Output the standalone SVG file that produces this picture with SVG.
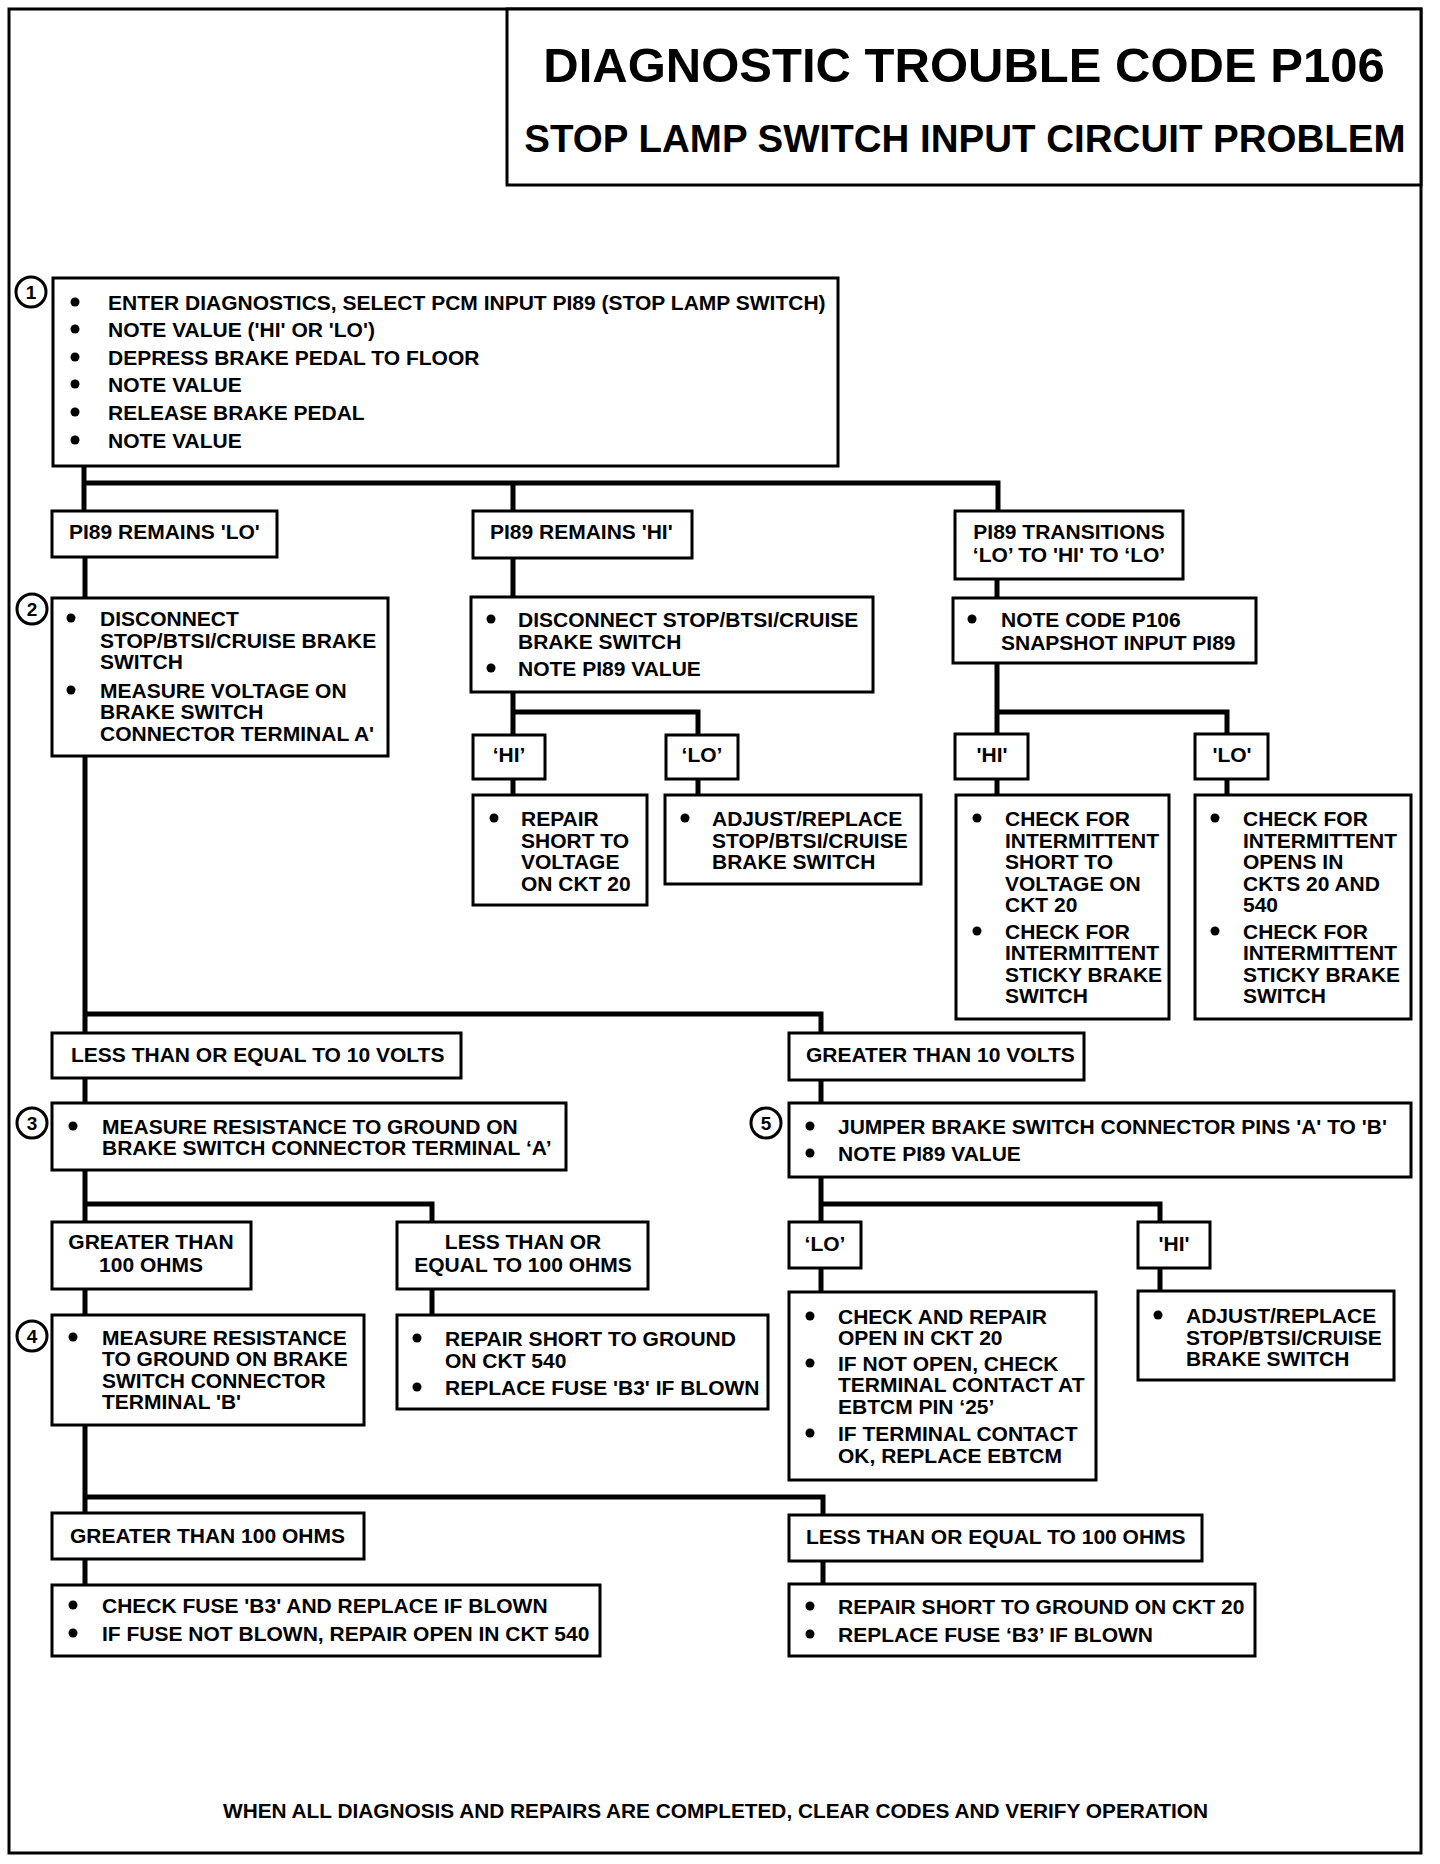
<svg xmlns="http://www.w3.org/2000/svg" width="1440" height="1864" viewBox="0 0 1440 1864">
<style>
.bx{fill:#fff;stroke:#000;stroke-width:3}
.t{font-family:"Liberation Sans",Arial,Helvetica,sans-serif;font-weight:bold;font-size:21px;fill:#000}
.m{text-anchor:middle}
.cn{fill:none;stroke:#000;stroke-width:5}
.num{fill:#fff;stroke:#000;stroke-width:3}
.nt{font-family:"Liberation Sans",Arial,Helvetica,sans-serif;font-weight:bold;font-size:19px;text-anchor:middle}
</style>
<defs>
<circle id="b" r="4.5" fill="#000"/>
</defs>
<rect width="1440" height="1864" fill="#fff"/>
<rect x="9" y="9" width="1412" height="1844" fill="none" stroke="#000" stroke-width="3"/>

<g id="connectors">
<path class="cn" d="M84 465V511M84 483H998V511M513 483V511"/>
<path class="cn" d="M85 557V598"/>
<path class="cn" d="M85 756V1033M85 1014H821V1033"/>
<path class="cn" d="M513 558V598M513 692V735M513 712H698V735M513 779V795M698 779V795"/>
<path class="cn" d="M997 579V598M997 663V734M997 712H1227V734M997 779V795M1227 779V795"/>
<path class="cn" d="M85 1078V1103M85 1170V1222M85 1204H432V1222M85 1289V1315M432 1289V1315"/>
<path class="cn" d="M85 1425V1513M85 1497H823V1515M85 1559V1585M823 1561V1584"/>
<path class="cn" d="M821 1080V1103M821 1177V1222M821 1204H1160V1222M821 1268V1292M1160 1268V1291"/>
</g>

<g id="title">
<rect class="bx" x="507" y="9" width="914" height="176"/>
<text class="t" x="964" y="82" text-anchor="middle" style="font-size:49px">DIAGNOSTIC TROUBLE CODE P106</text>
<text class="t" x="965" y="152" text-anchor="middle" style="font-size:38.5px">STOP LAMP SWITCH INPUT CIRCUIT PROBLEM</text>
</g>

<g id="step1">
<rect class="bx" x="53" y="278" width="785" height="188"/>
<circle class="num" cx="31" cy="292" r="15"/><text class="nt" x="31" y="299">1</text>
<use href="#b" x="75" y="302"/><text class="t" x="108" y="310">ENTER DIAGNOSTICS, SELECT PCM INPUT PI89 (STOP LAMP SWITCH)</text>
<use href="#b" x="75" y="329"/><text class="t" x="108" y="337">NOTE VALUE ('HI' OR 'LO')</text>
<use href="#b" x="75" y="357"/><text class="t" x="108" y="365">DEPRESS BRAKE PEDAL TO FLOOR</text>
<use href="#b" x="75" y="384"/><text class="t" x="108" y="392">NOTE VALUE</text>
<use href="#b" x="75" y="412"/><text class="t" x="108" y="420">RELEASE BRAKE PEDAL</text>
<use href="#b" x="75" y="440"/><text class="t" x="108" y="448">NOTE VALUE</text>
</g>

<g id="pi89-lo">
<rect class="bx" x="52" y="511" width="225" height="46"/>
<text class="t" x="69" y="539">PI89 REMAINS 'LO'</text>
</g>
<g id="pi89-hi">
<rect class="bx" x="473" y="511" width="219" height="47"/>
<text class="t" x="490" y="539">PI89 REMAINS 'HI'</text>
</g>
<g id="pi89-trans">
<rect class="bx" x="955" y="511" width="228" height="68"/>
<text class="t m" x="1069" y="539">PI89 TRANSITIONS</text>
<text class="t m" x="1069" y="562">‘LO’ TO 'HI' TO ‘LO’</text>
</g>

<g id="step2">
<rect class="bx" x="52" y="598" width="336" height="158"/>
<circle class="num" cx="32" cy="609" r="15"/><text class="nt" x="32" y="616">2</text>
<use href="#b" x="71" y="618"/>
<text class="t" x="100" y="626">DISCONNECT</text>
<text class="t" x="100" y="648">STOP/BTSI/CRUISE BRAKE</text>
<text class="t" x="100" y="669">SWITCH</text>
<use href="#b" x="71" y="690"/>
<text class="t" x="100" y="698">MEASURE VOLTAGE ON</text>
<text class="t" x="100" y="719">BRAKE SWITCH</text>
<text class="t" x="100" y="741">CONNECTOR TERMINAL A'</text>
</g>

<g id="disconnect-hi">
<rect class="bx" x="471" y="597" width="402" height="95"/>
<use href="#b" x="491" y="619"/>
<text class="t" x="518" y="627">DISCONNECT STOP/BTSI/CRUISE</text>
<text class="t" x="518" y="649">BRAKE SWITCH</text>
<use href="#b" x="491" y="668"/>
<text class="t" x="518" y="676">NOTE PI89 VALUE</text>
</g>

<g id="hi-a">
<rect class="bx" x="473" y="735" width="72" height="44"/>
<text class="t m" x="509" y="762">‘HI’</text>
</g>
<g id="lo-a">
<rect class="bx" x="666" y="735" width="72" height="44"/>
<text class="t m" x="702" y="762">‘LO’</text>
</g>
<g id="repair-short-voltage">
<rect class="bx" x="473" y="795" width="174" height="110"/>
<use href="#b" x="494" y="818"/>
<text class="t" x="521" y="826">REPAIR</text>
<text class="t" x="521" y="848">SHORT TO</text>
<text class="t" x="521" y="869">VOLTAGE</text>
<text class="t" x="521" y="891">ON CKT 20</text>
</g>
<g id="adjust-a">
<rect class="bx" x="665" y="795" width="256" height="89"/>
<use href="#b" x="685" y="818"/>
<text class="t" x="712" y="826">ADJUST/REPLACE</text>
<text class="t" x="712" y="848">STOP/BTSI/CRUISE</text>
<text class="t" x="712" y="869">BRAKE SWITCH</text>
</g>

<g id="note-code">
<rect class="bx" x="953" y="598" width="303" height="65"/>
<use href="#b" x="972" y="619"/>
<text class="t" x="1001" y="627">NOTE CODE P106</text>
<text class="t" x="1001" y="650">SNAPSHOT INPUT PI89</text>
</g>
<g id="hi-b">
<rect class="bx" x="955" y="734" width="73" height="45"/>
<text class="t m" x="992" y="762">'HI'</text>
</g>
<g id="lo-b">
<rect class="bx" x="1195" y="734" width="73" height="45"/>
<text class="t m" x="1232" y="762">'LO'</text>
</g>
<g id="check-short">
<rect class="bx" x="956" y="795" width="213" height="224"/>
<use href="#b" x="977" y="818"/>
<text class="t" x="1005" y="826">CHECK FOR</text>
<text class="t" x="1005" y="848">INTERMITTENT</text>
<text class="t" x="1005" y="869">SHORT TO</text>
<text class="t" x="1005" y="891">VOLTAGE ON</text>
<text class="t" x="1005" y="912">CKT 20</text>
<use href="#b" x="977" y="931"/>
<text class="t" x="1005" y="939">CHECK FOR</text>
<text class="t" x="1005" y="960">INTERMITTENT</text>
<text class="t" x="1005" y="982">STICKY BRAKE</text>
<text class="t" x="1005" y="1003">SWITCH</text>
</g>
<g id="check-opens">
<rect class="bx" x="1195" y="795" width="216" height="224"/>
<use href="#b" x="1215" y="818"/>
<text class="t" x="1243" y="826">CHECK FOR</text>
<text class="t" x="1243" y="848">INTERMITTENT</text>
<text class="t" x="1243" y="869">OPENS IN</text>
<text class="t" x="1243" y="891">CKTS 20 AND</text>
<text class="t" x="1243" y="912">540</text>
<use href="#b" x="1215" y="931"/>
<text class="t" x="1243" y="939">CHECK FOR</text>
<text class="t" x="1243" y="960">INTERMITTENT</text>
<text class="t" x="1243" y="982">STICKY BRAKE</text>
<text class="t" x="1243" y="1003">SWITCH</text>
</g>

<g id="le-10v">
<rect class="bx" x="52" y="1033" width="409" height="45"/>
<text class="t" x="71" y="1062">LESS THAN OR EQUAL TO 10 VOLTS</text>
</g>
<g id="gt-10v">
<rect class="bx" x="789" y="1033" width="295" height="47"/>
<text class="t" x="806" y="1062">GREATER THAN 10 VOLTS</text>
</g>

<g id="step3">
<rect class="bx" x="52" y="1103" width="514" height="67"/>
<circle class="num" cx="32" cy="1123" r="15"/><text class="nt" x="32" y="1130">3</text>
<use href="#b" x="73" y="1126"/>
<text class="t" x="102" y="1134">MEASURE RESISTANCE TO GROUND ON</text>
<text class="t" x="102" y="1155">BRAKE SWITCH CONNECTOR TERMINAL ‘A’</text>
</g>
<g id="step5">
<rect class="bx" x="789" y="1103" width="622" height="74"/>
<circle class="num" cx="766" cy="1123" r="15"/><text class="nt" x="766" y="1130">5</text>
<use href="#b" x="810" y="1126"/>
<text class="t" x="838" y="1134">JUMPER BRAKE SWITCH CONNECTOR PINS 'A' TO 'B'</text>
<use href="#b" x="810" y="1153"/>
<text class="t" x="838" y="1161">NOTE PI89 VALUE</text>
</g>

<g id="gt-100-a">
<rect class="bx" x="52" y="1222" width="199" height="67"/>
<text class="t m" x="151" y="1249">GREATER THAN</text>
<text class="t m" x="151" y="1272">100 OHMS</text>
</g>
<g id="le-100-a">
<rect class="bx" x="397" y="1222" width="251" height="67"/>
<text class="t m" x="523" y="1249">LESS THAN OR</text>
<text class="t m" x="523" y="1272">EQUAL TO 100 OHMS</text>
</g>
<g id="lo-c">
<rect class="bx" x="789" y="1222" width="72" height="46"/>
<text class="t m" x="825" y="1251">‘LO’</text>
</g>
<g id="hi-c">
<rect class="bx" x="1138" y="1222" width="72" height="46"/>
<text class="t m" x="1174" y="1251">'HI'</text>
</g>

<g id="step4">
<rect class="bx" x="52" y="1315" width="312" height="110"/>
<circle class="num" cx="32" cy="1336" r="15"/><text class="nt" x="32" y="1343">4</text>
<use href="#b" x="73" y="1337"/>
<text class="t" x="102" y="1345">MEASURE RESISTANCE</text>
<text class="t" x="102" y="1366">TO GROUND ON BRAKE</text>
<text class="t" x="102" y="1388">SWITCH CONNECTOR</text>
<text class="t" x="102" y="1409">TERMINAL 'B'</text>
</g>
<g id="repair-short-540">
<rect class="bx" x="397" y="1315" width="371" height="94"/>
<use href="#b" x="417" y="1338"/>
<text class="t" x="445" y="1346">REPAIR SHORT TO GROUND</text>
<text class="t" x="445" y="1368">ON CKT 540</text>
<use href="#b" x="417" y="1387"/>
<text class="t" x="445" y="1395">REPLACE FUSE 'B3' IF BLOWN</text>
</g>
<g id="check-open-20">
<rect class="bx" x="789" y="1292" width="307" height="188"/>
<use href="#b" x="810" y="1316"/>
<text class="t" x="838" y="1324">CHECK AND REPAIR</text>
<text class="t" x="838" y="1345">OPEN IN CKT 20</text>
<use href="#b" x="810" y="1363"/>
<text class="t" x="838" y="1371">IF NOT OPEN, CHECK</text>
<text class="t" x="838" y="1392">TERMINAL CONTACT AT</text>
<text class="t" x="838" y="1414">EBTCM PIN ‘25’</text>
<use href="#b" x="810" y="1433"/>
<text class="t" x="838" y="1441">IF TERMINAL CONTACT</text>
<text class="t" x="838" y="1463">OK, REPLACE EBTCM</text>
</g>
<g id="adjust-c">
<rect class="bx" x="1138" y="1291" width="256" height="89"/>
<use href="#b" x="1158" y="1315"/>
<text class="t" x="1186" y="1323">ADJUST/REPLACE</text>
<text class="t" x="1186" y="1345">STOP/BTSI/CRUISE</text>
<text class="t" x="1186" y="1366">BRAKE SWITCH</text>
</g>

<g id="gt-100-b">
<rect class="bx" x="52" y="1513" width="312" height="46"/>
<text class="t" x="70" y="1543">GREATER THAN 100 OHMS</text>
</g>
<g id="le-100-b">
<rect class="bx" x="789" y="1515" width="413" height="46"/>
<text class="t" x="806" y="1544">LESS THAN OR EQUAL TO 100 OHMS</text>
</g>
<g id="check-fuse">
<rect class="bx" x="52" y="1585" width="548" height="71"/>
<use href="#b" x="73" y="1605"/>
<text class="t" x="102" y="1613">CHECK FUSE 'B3' AND REPLACE IF BLOWN</text>
<use href="#b" x="73" y="1633"/>
<text class="t" x="102" y="1641">IF FUSE NOT BLOWN, REPAIR OPEN IN CKT 540</text>
</g>
<g id="repair-short-20">
<rect class="bx" x="789" y="1584" width="466" height="72"/>
<use href="#b" x="810" y="1606"/>
<text class="t" x="838" y="1614">REPAIR SHORT TO GROUND ON CKT 20</text>
<use href="#b" x="810" y="1634"/>
<text class="t" x="838" y="1642">REPLACE FUSE ‘B3’ IF BLOWN</text>
</g>

<g id="footer">
<text class="t" x="223" y="1818" textLength="985" lengthAdjust="spacingAndGlyphs">WHEN ALL DIAGNOSIS AND REPAIRS ARE COMPLETED, CLEAR CODES AND VERIFY OPERATION</text>
</g>
</svg>
